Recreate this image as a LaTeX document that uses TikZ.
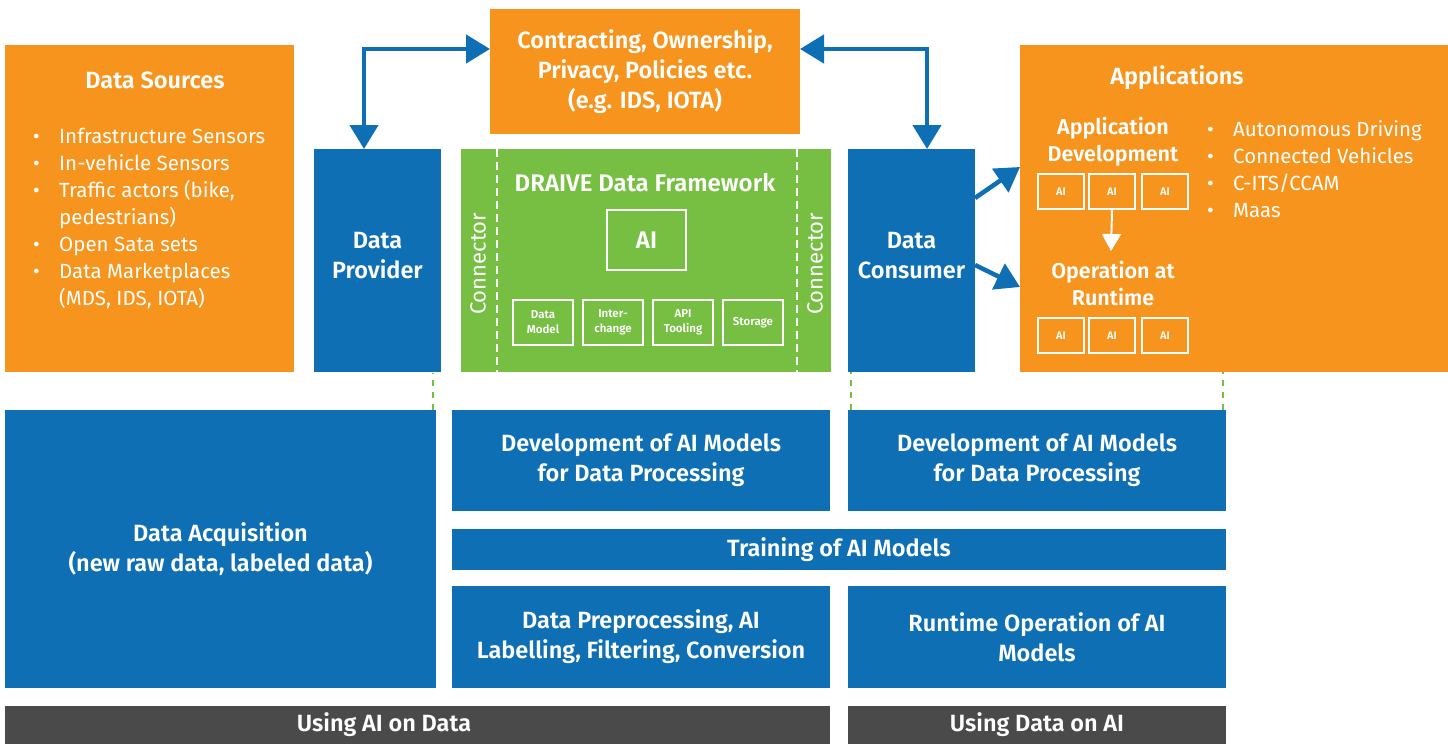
\documentclass[tikz,border=0pt]{standalone}
\usepackage{fontspec}
\setmainfont{Fira Sans}[BoldFont={Fira Sans SemiBold}]
\usetikzlibrary{arrows.meta}
\definecolor{drorange}{HTML}{F7941D}
\definecolor{drblue}{HTML}{0F6FB5}
\definecolor{drgreen}{HTML}{76BF43}
\definecolor{drgray}{HTML}{4A4A4A}
\newcommand{\bul}{\makebox[29pt][l]{\hspace{3pt}\textbullet}}
\newcommand{\nobul}{\hspace*{29pt}}
\tikzset{
  block/.style={inner sep=0pt, outer sep=0pt, anchor=north west, text=white, align=center,
    font=\bfseries\fontsize{23.5}{30}\selectfont},
  orangeblock/.style={block, fill=drorange},
  blueblock/.style={block, fill=drblue},
  greenblock/.style={block, fill=drgreen},
  grayblock/.style={block, fill=drgray},
  frame/.style={draw=white, line width=2pt, inner sep=0pt, anchor=north west, text=white,
    align=center, font=\bfseries\fontsize{11.5}{15}\selectfont},
  aibox/.style={frame, minimum width=46pt, minimum height=35pt, font=\bfseries\fontsize{11}{11}\selectfont},
  title/.style={text=white, align=center, inner sep=0pt, font=\bfseries\fontsize{23.5}{27}\selectfont},
  subtitle/.style={title, font=\bfseries\fontsize{21.5}{27}\selectfont},
  bullets/.style={text=white, align=left, inner sep=0pt, anchor=west, font=\fontsize{20.5}{27}\selectfont},
  connlabel/.style={text=white, rotate=90, inner sep=0pt, font=\fontsize{22}{22}\selectfont},
  bluearrow/.style={draw=drblue, line width=4.5pt,
    {Triangle[width=28pt,length=24pt]}-{Triangle[width=28pt,length=24pt]}},
  blueup/.style={draw=drblue, line width=4.5pt, -{Triangle[width=28pt,length=24pt]}},
  whitearrow/.style={draw=white, line width=2pt, -{Triangle[width=19pt,length=17pt]}},
  conndash/.style={draw=white, line width=2pt, dash pattern=on 8pt off 5pt},
  linkdash/.style={draw=drgreen, line width=1.5pt, dash pattern=on 6pt off 6pt},
}
\begin{document}
\begin{tikzpicture}[x=1pt,y=-1pt]
\useasboundingbox (0,0) rectangle (1448,744);
% upper row
\node[orangeblock, minimum width=289pt, minimum height=327pt] (src) at (5,45) {};
\node[title] (srctitle) at (155,80) {Data Sources};
\node[bullets] (srclist) at (30,219) {\bul Infrastructure Sensors\\ \bul In-vehicle Sensors\\
  \bul Traffic actors (bike,\\ \nobul pedestrians)\\ \bul Open Sata sets\\
  \bul Data Marketplaces\\ \nobul (MDS, IDS, IOTA)};
\node[blueblock, minimum width=127pt, minimum height=223pt] (prov) at (314,149) {Data\\Provider\\[-20pt]\mbox{}};
\node[orangeblock, minimum width=310pt, minimum height=125pt] (contract) at (490,9)
  {Contracting, Ownership,\\Privacy, Policies etc.\\(e.g. IDS, IOTA)};
\node[greenblock, minimum width=370pt, minimum height=223pt] (frame) at (461,149) {};
\draw[conndash] (497,149) -- (497,372);
\draw[conndash] (797,149) -- (797,372);
\node[connlabel] (connl) at (478,264) {Connector};
\node[connlabel] (connr) at (815,264) {Connector};
\node[title, font=\bfseries\fontsize{24}{27}\selectfont] (frametitle) at (645,183) {DRAIVE Data Framework};
\node[frame, minimum width=79pt, minimum height=60pt, font=\bfseries\fontsize{24}{24}\selectfont] (ai) at (606,209) {AI};
\node[frame, minimum width=60pt, minimum height=45pt] (model) at (512,299) {Data\\Model};
\node[frame, minimum width=60pt, minimum height=45pt] (inter) at (582,299) {Inter-\\change};
\node[frame, minimum width=60pt, minimum height=45pt] (api) at (652,299) {API\\Tooling};
\node[frame, minimum width=60pt, minimum height=45pt] (store) at (722,299) {Storage};
\node[blueblock, minimum width=127pt, minimum height=223pt] (cons) at (848,149) {Data\\Consumer\\[-20pt]\mbox{}};
\node[orangeblock, minimum width=428pt, minimum height=327pt] (apps) at (1020,45) {};
\node[title] (appstitle) at (1177,78) {Applications};
\node[subtitle] (devtitle) at (1113,142) {Application\\Development};
\node[aibox] (ad1) at (1037,173) {AI};
\node[aibox] (ad2) at (1088,173) {AI};
\node[aibox] (ad3) at (1141,173) {AI};
\node[subtitle] (optitle) at (1113,284) {Operation at\\Runtime};
\node[aibox] (op1) at (1037,317) {AI};
\node[aibox] (op2) at (1088,317) {AI};
\node[aibox] (op3) at (1141,317) {AI};
\node[bullets] (appslist) at (1204,169) {\bul Autonomous Driving\\ \bul Connected Vehicles\\
  \bul C-ITS/CCAM\\ \bul Maas};
% connectors
\coordinate (optop) at (1111,251);
\draw[whitearrow] (ad2.south) -- (optop);
\draw[bluearrow] ([yshift=22.5pt]contract.west) -| ([xshift=-13.5pt]prov.north);
\draw[bluearrow] ([yshift=22.5pt]contract.east) -| ([xshift=15.5pt]cons.north);
\draw[blueup] ([yshift=62.5pt]cons.east) -- ([yshift=41.5pt]apps.west);
\draw[blueup] ([yshift=-4.5pt]cons.east) -- ([yshift=-78.5pt]apps.west);
% lower row
\node[blueblock, minimum width=431pt, minimum height=278pt] (acq) at (5,410) {Data Acquisition\\(new raw data, labeled data)};
\node[blueblock, minimum width=378pt, minimum height=101pt] (devl) at (452,410) {Development of AI Models\\for Data Processing};
\node[blueblock, minimum width=378pt, minimum height=101pt] (devr) at (848,410) {Development of AI Models\\for Data Processing};
\node[blueblock, minimum width=774pt, minimum height=41pt] (train) at (452,529) {Training of AI Models};
\node[blueblock, minimum width=378pt, minimum height=102pt] (prep) at (452,586) {Data Preprocessing, AI\\Labelling, Filtering, Conversion};
\node[blueblock, minimum width=378pt, minimum height=102pt] (run) at (848,586) {Runtime Operation of AI\\Models};
\node[grayblock, minimum width=825pt, minimum height=38pt] (useai) at (5,706) {};
\node[title] (useaitext) at (384,725) {Using AI on Data};
\node[grayblock, minimum width=378pt, minimum height=38pt] (usedata) at (848,706) {Using Data on AI};
% dashed links
\draw[linkdash] (acq.north -| 433,0) -- (433,373);
\draw[linkdash] (devr.north west) ++(3,0) -- (cons.south west -| 851,0);
\draw[linkdash] (devr.north east) ++(-3,0) -- (apps.south -| 1223,0);
\end{tikzpicture}
\end{document}
